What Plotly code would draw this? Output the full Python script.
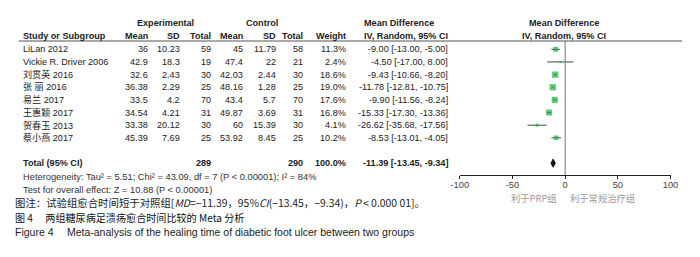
import plotly.graph_objects as go

# ---------------- data ----------------
studies = ["LiLan 2012", "Vickie R. Driver 2006", "刘贯英 2016", "张 丽 2016",
           "易兰 2017", "王惠颖 2017", "贺春玉 2013", "蔡小燕 2017"]
exp_mean = [36, 42.9, 32.6, 36.38, 33.5, 34.54, 33.38, 45.39]
exp_sd = [10.23, 18.3, 2.43, 2.29, 4.2, 4.21, 20.12, 7.69]
exp_n = [59, 19, 30, 25, 70, 31, 30, 25]
ctl_mean = [45, 47.4, 42.03, 48.16, 43.4, 49.87, 60, 53.92]
ctl_sd = [11.79, 22, 2.44, 1.28, 5.7, 3.69, 15.39, 8.45]
ctl_n = [58, 21, 30, 25, 70, 31, 30, 25]
weight = [11.3, 2.4, 18.6, 19.0, 17.6, 16.8, 4.1, 10.2]
md = [-9.00, -4.50, -9.43, -11.78, -9.90, -15.33, -26.62, -8.53]
ci_lo = [-13.00, -17.00, -10.66, -12.81, -11.56, -17.30, -35.68, -13.01]
ci_hi = [-5.00, 8.00, -8.20, -10.75, -8.24, -13.36, -17.56, -4.05]

total_exp_n = 289
total_ctl_n = 290
total_weight = 100.0
total_md = -11.39
total_lo = -13.45
total_hi = -9.34

x_ticks = [-100, -50, 0, 50, 100]
heterogeneity = "Heterogeneity: Tau² = 5.51; Chi² = 43.09, df = 7 (P < 0.00001); I² = 84%"
overall = "Test for overall effect: Z = 10.88 (P < 0.00001)"
favours_left = "利于PRP组"
favours_right = "利于常规治疗组"
note = ("图注：试验组愈合时间短于对照组[<i>MD</i>=−11.39，95%<i>CI</i>(−13.45，−9.34)，"
        "<i>P</i> < 0.000 01]。")
title_cn = "图 4　 两组糖尿病足溃疡愈合时间比较的 Meta 分析"
title_en = "Figure 4　 Meta-analysis of the healing time of diabetic foot ulcer between two groups"

# ---------------- layout helpers ----------------
W, H = 700, 257
ROW0, ROWH = 49.3, 12.65          # pixel of first row, row spacing
AXIS_PX = 175                      # pixel of x axis line
TOTAL_IDX = len(studies) + 1.0

def px(x):
    return x / W

def py(y):
    return 1 - y / H

FONT = "Liberation Sans, Arial, Noto Sans CJK SC, sans-serif"
CJK = "Noto Sans CJK SC, Liberation Sans, sans-serif"
TXT = "#222"
GREEN = "#1fae3e"
TS = 9.1   # table font size

fig = go.Figure()

# study CIs and squares
fig.add_trace(go.Scatter(
    x=md, y=list(range(len(studies))), mode="markers",
    marker=dict(symbol="square", color=GREEN,
                size=[1.45 * w ** 0.5 for w in weight], line=dict(width=0)),
    error_x=dict(type="data", symmetric=False,
                 array=[h - m for h, m in zip(ci_hi, md)],
                 arrayminus=[m - l for m, l in zip(md, ci_lo)],
                 width=0, thickness=1, color="#3b4a3e"),
    hoverinfo="skip", showlegend=False, cliponaxis=False))

# total diamond
dh = 0.32
fig.add_trace(go.Scatter(
    x=[total_lo, total_md, total_hi, total_md, total_lo],
    y=[TOTAL_IDX, TOTAL_IDX - dh, TOTAL_IDX, TOTAL_IDX + dh, TOTAL_IDX],
    mode="lines", fill="toself", fillcolor="#111", line=dict(color="#111", width=1),
    hoverinfo="skip", showlegend=False))

# axes
y_top = -ROW0 / ROWH
y_bot = (AXIS_PX - ROW0) / ROWH
fig.update_layout(
    width=W, height=H, autosize=False,
    margin=dict(l=0, r=0, t=0, b=0),
    paper_bgcolor="white", plot_bgcolor="white",
    xaxis=dict(domain=[px(462), px(678)], range=[-100, 100],
               tickvals=x_ticks, ticktext=[str(t) for t in x_ticks],
               ticks="outside", ticklen=3, tickcolor="#222", tickwidth=1,
               ticklabelstandoff=-2,
               showline=True, linecolor="#222", linewidth=1.2,
               showgrid=False, zeroline=False,
               tickfont=dict(family=FONT, size=9.3, color="#444")),
    yaxis=dict(domain=[py(AXIS_PX), 1], range=[y_bot, y_top],
               visible=False, showgrid=False, zeroline=False),
)

# zero line and header line
fig.add_shape(type="line", xref="x", yref="paper", x0=0, x1=0,
              y0=py(AXIS_PX), y1=py(41), line=dict(color="#777", width=1))
fig.add_shape(type="line", xref="paper", yref="paper", x0=px(10), x1=px(690),
              y0=py(41), y1=py(41), line=dict(color="#555", width=1))

ann = []

def text(x, y, s, anchor="left", size=TS, bold=False, color=TXT, yref="paper", family=FONT):
    if bold:
        s = "<b>" + s + "</b>"
    ann.append(dict(x=px(x), y=(py(y) if yref == "paper" else y), xref="paper", yref=yref,
                    text=s, showarrow=False, xanchor=anchor, yanchor="middle",
                    font=dict(family=family, size=size, color=color)))

def fmt(v):
    return f"{v:g}"

# headers
text(160, 23, "Experimental", "center", bold=True)
text(259, 23, "Control", "center", bold=True)
text(400, 23, "Mean Difference", "center", bold=True)
text(569, 23, "Mean Difference", "center", bold=True)
text(12, 36, "Study or Subgroup", "left", bold=True)
for xr, lab in [(144, "Mean"), (177, "SD"), (209, "Total"), (242, "Mean"),
                (276, "SD"), (303, "Total"), (347, "Weight")]:
    text(xr, 36, lab, "right", bold=True)
text(452, 36, "IV, Random, 95% CI", "right", bold=True)
text(569, 36, "IV, Random, 95% CI", "center", bold=True)

# study rows
for i, s in enumerate(studies):
    text(12, i, s, "left", yref="y")
    text(144, i, fmt(exp_mean[i]), "right", yref="y")
    text(177, i, fmt(exp_sd[i]), "right", yref="y")
    text(209, i, str(exp_n[i]), "right", yref="y")
    text(242, i, fmt(ctl_mean[i]), "right", yref="y")
    text(276, i, fmt(ctl_sd[i]), "right", yref="y")
    text(303, i, str(ctl_n[i]), "right", yref="y")
    text(347, i, f"{weight[i]:.1f}%", "right", yref="y")
    text(452, i, f"{md[i]:.2f} [{ci_lo[i]:.2f}, {ci_hi[i]:.2f}]", "right", yref="y")

# total row
text(12, TOTAL_IDX, "Total (95% CI)", "left", bold=True, yref="y")
text(209, TOTAL_IDX, str(total_exp_n), "right", bold=True, yref="y")
text(303, TOTAL_IDX, str(total_ctl_n), "right", bold=True, yref="y")
text(347, TOTAL_IDX, f"{total_weight:.1f}%", "right", bold=True, yref="y")
text(452, TOTAL_IDX, f"{total_md:.2f} [{total_lo:.2f}, {total_hi:.2f}]", "right",
     bold=True, yref="y")

text(12, 177, heterogeneity, "left", size=9.3, color="#333")
text(12, 190, overall, "left", size=9.3, color="#333")

# favours labels
text(564, 197.5, favours_left, "right", size=9.3, color="#999", family=CJK)
text(573, 197.5, favours_right, "left", size=9.3, color="#999", family=CJK)

# captions
text(4, 202, note, "left", size=10.4, color="#222", family=CJK)
text(4, 217.5, title_cn, "left", size=10.1, color="#111", family=CJK)
text(4, 231.5, title_en, "left", size=10.5, color="#222", family=FONT)

fig.update_layout(annotations=ann)
fig.write_html("out.html",
               config={"displayModeBar": False},
               post_script="document.body.style.margin='0';"
                           "document.body.style.overflow='hidden';")
